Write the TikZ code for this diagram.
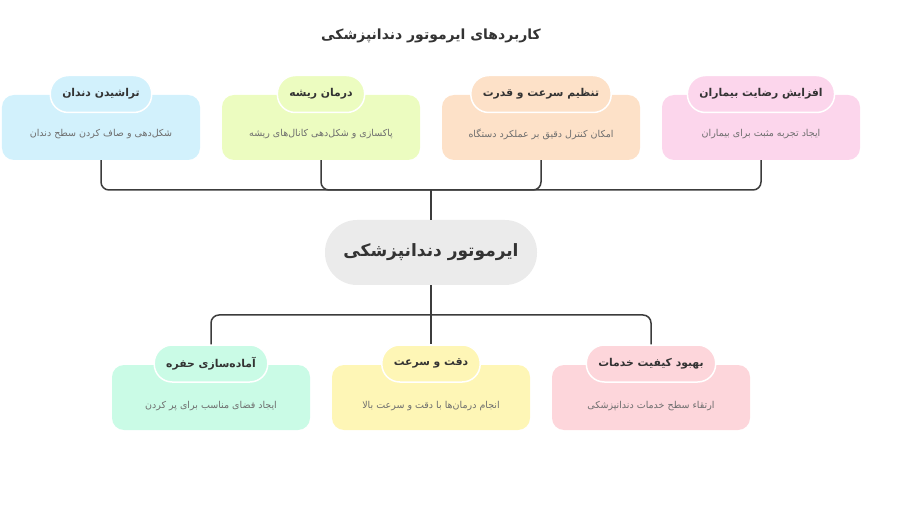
\documentclass[tikz,border=0pt]{standalone}
\usepackage{fontspec}
\newfontfamily\ar[Script=Arabic]{DejaVu Sans}
\TeXXeTstate=1
\definecolor{cBlue}{RGB}{210,241,252}
\definecolor{cGreen}{RGB}{236,252,192}
\definecolor{cPeach}{RGB}{253,225,200}
\definecolor{cPink}{RGB}{252,214,236}
\definecolor{cMint}{RGB}{202,251,230}
\definecolor{cYellow}{RGB}{254,246,182}
\definecolor{cRose}{RGB}{253,214,219}
\definecolor{cCenter}{RGB}{235,235,235}
\definecolor{cText}{RGB}{51,51,51}
\definecolor{cDesc}{RGB}{110,110,110}
\definecolor{cLine}{RGB}{60,60,60}
\tikzset{
  cardbox/.style={rounded corners=12bp, minimum width=198bp, minimum height=65bp, inner sep=0pt},
  pilllabel/.style={rounded corners=18bp, draw=white, line width=1.5bp, minimum height=37bp, inner xsep=12bp, inner ysep=0pt, font=\ar\bfseries\fontsize{10.8bp}{13bp}\selectfont, text=cText},
  desctext/.style={font=\ar\fontsize{9.5bp}{11bp}\selectfont, text=cDesc},
  conn/.style={draw=cLine, line width=1.5bp, rounded corners=8bp},
}
\begin{document}
\begin{tikzpicture}[x=1bp,y=-1bp]
\useasboundingbox (0,0) rectangle (900,506);
\node[font=\ar\bfseries\fontsize{14bp}{17bp}\selectfont, text=cText] (title) at (431,36) {\beginR کاربردهای ایرموتور دندانپزشکی\endR};
% top cards
\node[cardbox, fill=cBlue] (b1) at (101,127.5) {};
\node[cardbox, fill=cGreen] (b2) at (321,127.5) {};
\node[cardbox, fill=cPeach] (b3) at (541,127.5) {};
\node[cardbox, fill=cPink] (b4) at (761,127.5) {};
\node[desctext] (d1) at (101,134) {\beginR شکل‌دهی و صاف کردن سطح دندان\endR};
\node[desctext] (d2) at (321,134) {\beginR پاکسازی و شکل‌دهی کانال‌های ریشه\endR};
\node[desctext] (d3) at (541,134) {\beginR امکان کنترل دقیق بر عملکرد دستگاه\endR};
\node[desctext] (d4) at (761,134) {\beginR ایجاد تجربه مثبت برای بیماران\endR};
\node[pilllabel, fill=cBlue] (p1) at (101,94) {\beginR تراشیدن دندان\endR};
\node[pilllabel, fill=cGreen] (p2) at (321,94) {\beginR درمان ریشه\endR};
\node[pilllabel, fill=cPeach] (p3) at (541,94) {\beginR تنظیم سرعت و قدرت\endR};
\node[pilllabel, fill=cPink] (p4) at (761,94) {\beginR افزایش رضایت بیماران\endR};
% center
\node[fill=cCenter, rounded corners=32bp, minimum width=212bp, minimum height=65bp, inner sep=0pt, font=\ar\bfseries\fontsize{17bp}{20bp}\selectfont, text=cText] (hub) at (431,252.5) {\beginR ایرموتور دندانپزشکی\endR};
% bottom cards
\node[cardbox, fill=cMint] (b5) at (211,397.5) {};
\node[cardbox, fill=cYellow] (b6) at (431,397.5) {};
\node[cardbox, fill=cRose] (b7) at (651,397.5) {};
\node[desctext] (d5) at (211,406.5) {\beginR ایجاد فضای مناسب برای پر کردن\endR};
\node[desctext] (d6) at (431,406.5) {\beginR انجام درمان‌ها با دقت و سرعت بالا\endR};
\node[desctext] (d7) at (651,406.5) {\beginR ارتقاء سطح خدمات دندانپزشکی\endR};
\node[pilllabel, fill=cMint] (p5) at (211,363.5) {\beginR آماده‌سازی حفره\endR};
\node[pilllabel, fill=cYellow] (p6) at (431,363.5) {\beginR دقت و سرعت\endR};
\node[pilllabel, fill=cRose] (p7) at (651,363.5) {\beginR بهبود کیفیت خدمات\endR};
% connectors
\coordinate (tb) at (431,190);
\coordinate (bb) at (431,315);
\draw[conn] (b1.south) |- (tb);
\draw[conn] (b2.south) |- (tb);
\draw[conn] (b3.south) |- (tb);
\draw[conn] (b4.south) |- (tb);
\draw[conn] (tb) -- (hub.north);
\draw[conn] (hub.south) -- (bb);
\draw[conn] (bb) -| (p5.north);
\draw[conn] (bb) -- (p6.north);
\draw[conn] (bb) -| (p7.north);
\end{tikzpicture}
\end{document}
